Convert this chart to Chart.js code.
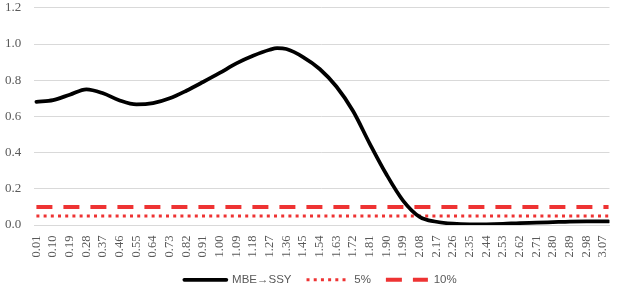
<!DOCTYPE html>
<html>
<head>
<meta charset="utf-8">
<script src="https://cdn.jsdelivr.net/npm/chart.js@4"></script>
<style>
  html, body { margin: 0; padding: 0; background: #fff; }
  #wrap { width: 618px; height: 292px; }
</style>
</head>
<body>
<div id="wrap"><canvas id="lineChart"></canvas></div>
<script>
const xValues = [0.01, 0.10, 0.19, 0.28, 0.37, 0.46, 0.55, 0.64, 0.73, 0.82, 0.91, 1.00,
    1.09, 1.18, 1.27, 1.31, 1.36, 1.45, 1.54, 1.63, 1.72, 1.81, 1.90, 1.99, 2.08, 2.17,
    2.26, 2.35, 2.44, 2.53, 2.62, 2.71, 2.80, 2.89, 2.98, 3.07, 3.10];
const mbeSsy = [0.680, 0.690, 0.720, 0.750, 0.728, 0.688, 0.666, 0.673, 0.700, 0.742, 0.790, 0.840,
    0.893, 0.935, 0.968, 0.977, 0.972, 0.928, 0.862, 0.765, 0.630, 0.450, 0.280, 0.135, 0.045, 0.018,
    0.007, 0.004, 0.004, 0.006, 0.011, 0.013, 0.016, 0.019, 0.020, 0.020, 0.020];
const tickLabels = ['0.01', '0.10', '0.19', '0.28', '0.37', '0.46', '0.55', '0.64', '0.73', '0.82',
    '0.91', '1.00', '1.09', '1.18', '1.27', '1.36', '1.45', '1.54', '1.63', '1.72', '1.81', '1.90',
    '1.99', '2.08', '2.17', '2.26', '2.35', '2.44', '2.53', '2.62', '2.71', '2.80', '2.89', '2.98', '3.07'];
const xRange = [0.01, 3.10];
const level5 = 0.05;
const level10 = 0.10;

const red = '#ee3333';
const grey = '#595959';

// nudge the legend a bit right and up, like the original
const legendShift = {
    id: 'legendShift',
    afterLayout(chart) {
        chart.legend.left += 9;
        chart.legend.right += 9;
        chart.legend.top -= 2;
        chart.legend.bottom -= 2;
    }
};

// legend samples should use the dataset's own line width and dash
function lineLabels(chart) {
    return Chart.defaults.plugins.legend.labels.generateLabels(chart).map(item => {
        const ds = chart.data.datasets[item.datasetIndex];
        item.lineWidth = ds.borderWidth;
        item.lineDash = ds.borderDash || [];
        item.lineCap = ds.borderCapStyle || 'butt';
        item.strokeStyle = ds.borderColor;
        return item;
    });
}

const ctx = document.getElementById('lineChart').getContext('2d');
new Chart(ctx, {
    type: 'line',
    data: {
        datasets: [{
            label: 'MBE\u2192SSY',
            data: xValues.map((x, i) => ({ x: x, y: mbeSsy[i] })),
            borderColor: '#000',
            backgroundColor: '#000',
            borderWidth: 3.75,
            cubicInterpolationMode: 'monotone',
            borderCapStyle: 'round',
            borderJoinStyle: 'round',
            pointRadius: 0
        }, {
            label: '5%',
            data: xRange.map(x => ({ x: x, y: level5 })),
            borderColor: red,
            backgroundColor: red,
            borderWidth: 3,
            borderDash: [3, 4.2],
            pointRadius: 0
        }, {
            label: '10%',
            data: xRange.map(x => ({ x: x, y: level10 })),
            borderColor: red,
            backgroundColor: red,
            borderWidth: 4,
            borderDash: [16, 11],
            pointRadius: 0
        }]
    },
    options: {
        responsive: true,
        maintainAspectRatio: false,
        animation: false,
        devicePixelRatio: 1,
        layout: { padding: { top: 7, right: 0, left: 5, bottom: -5.5 } },
        plugins: {
            tooltip: { enabled: false },
            legend: {
                position: 'bottom',
                labels: {
                    usePointStyle: true,
                    pointStyle: 'line',
                    pointStyleWidth: 42,
                    padding: 15,
                    color: grey,
                    font: { family: '"Liberation Sans", Arial, sans-serif', size: 11.5 },
                    generateLabels: lineLabels
                }
            }
        },
        scales: {
            x: {
                type: 'linear',
                min: -0.003,
                max: 3.105,
                // invisible tick marks only push the labels down
                grid: { display: true, drawOnChartArea: false, drawTicks: true, tickLength: 10.5, color: 'rgba(0,0,0,0)' },
                border: { color: '#d9d9d9' },
                afterFit: (scale) => { scale.height = 36; },
                afterBuildTicks: (scale) => {
                    scale.ticks = tickLabels.map(t => ({ value: parseFloat(t), label: t }));
                },
                ticks: {
                    autoSkip: false,
                    minRotation: 90,
                    maxRotation: 90,
                    padding: 0,
                    color: grey,
                    font: { family: '"Liberation Serif", "Times New Roman", serif', size: 12.5 },
                    callback: (value) => value.toFixed(2)
                }
            },
            y: {
                min: 0,
                max: 1.2,
                grid: { color: '#d9d9d9', drawTicks: false },
                border: { display: false },
                afterFit: (scale) => { scale.width = 29; },
                ticks: {
                    stepSize: 0.2,
                    padding: 0,
                    crossAlign: 'far',
                    color: grey,
                    font: { family: '"Liberation Serif", "Times New Roman", serif', size: 13 },
                    callback: (value) => value.toFixed(1)
                }
            }
        }
    },
    plugins: [legendShift]
});
</script>
</body>
</html>
